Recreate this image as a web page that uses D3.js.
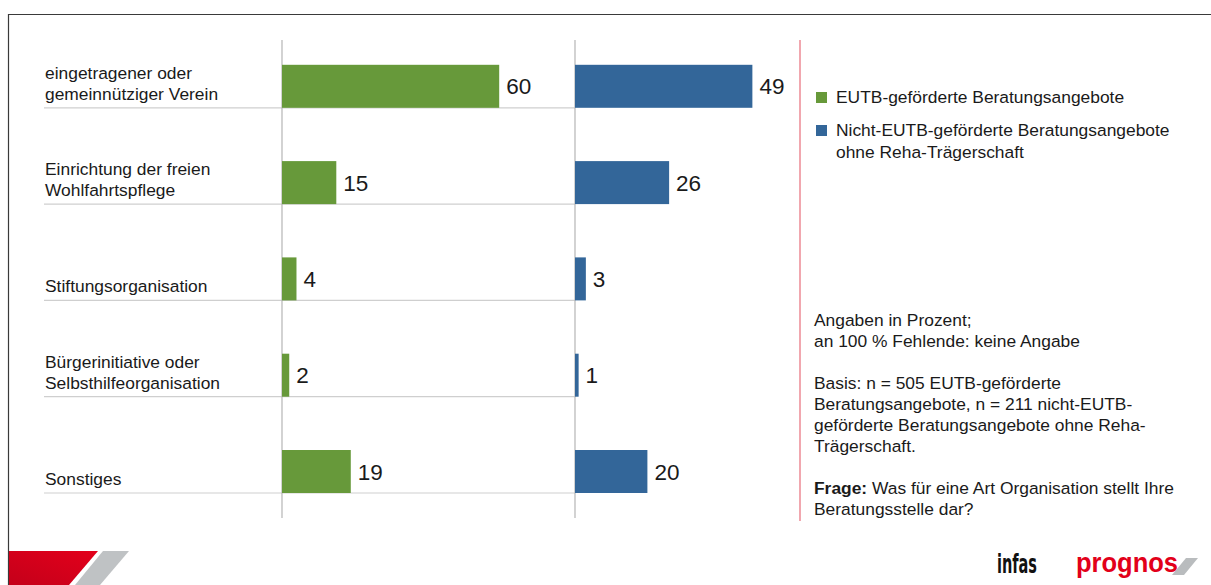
<!DOCTYPE html>
<html lang="de">
<head>
<meta charset="utf-8">
<title>Art der Organisation</title>
<script src="https://d3js.org/d3.v7.min.js"></script>
<style>
  body{margin:0;background:#fff;font-family:"Liberation Sans",Arial,sans-serif;}
  svg text{fill:#1a1a1a;}
</style>
</head>
<body>
<div id="chart"></div>
<script>
// data
var categories = [
  ["eingetragener oder", "gemeinnütziger Verein"],
  ["Einrichtung der freien", "Wohlfahrtspflege"],
  ["Stiftungsorganisation"],
  ["Bürgerinitiative oder", "Selbsthilfeorganisation"],
  ["Sonstiges"]
]
var eutbValues = [60, 15, 4, 2, 19]
var nichtEutbValues = [49, 26, 3, 1, 20]
var seriesNames = [["EUTB-geförderte Beratungsangebote"], ["Nicht-EUTB-geförderte Beratungsangebote", "ohne Reha-Trägerschaft"]]
var noteLines = [
  "Angaben in Prozent;",
  "an 100 % Fehlende: keine Angabe",
  "",
  "Basis: n = 505 EUTB-geförderte",
  "Beratungsangebote, n = 211 nicht-EUTB-",
  "geförderte Beratungsangebote ohne Reha-",
  "Trägerschaft.",
  "",
  "|Frage:| Was für eine Art Organisation stellt Ihre",
  "Beratungsstelle dar?"
]

var w = 1211, h = 585
var green = "#67993a", blue = "#336699"
var fs = 17.4

var svg = d3.select("#chart").append("svg")
  .attr("width", w).attr("height", h)

// frame
svg.append("path").attr("d", "M8.5,585 V14.5 H1211")
  .attr("fill", "none").attr("stroke", "#3a3a3a").attr("stroke-width", 1.2)

var keys = categories.map(function(d, i){ return "c" + i })
var yScale = d3.scaleBand().domain(keys).range([11.5, 493]).paddingInner(0).paddingOuter(0)
var step = yScale.step()
var barH = 43
var xGreen = d3.scaleLinear().domain([0, 100]).range([282, 644])
var xBlue = d3.scaleLinear().domain([0, 100]).range([575, 937])

// row separators
svg.selectAll("line.sep").data(keys).enter().append("line")
  .attr("class", "sep")
  .attr("x1", 44).attr("x2", 575)
  .attr("y1", function(d){ return yScale(d) + step })
  .attr("y2", function(d){ return yScale(d) + step })
  .attr("stroke", "#cfcfcf").attr("stroke-width", 1.2)

// axis lines
;[xGreen(0), xBlue(0)].forEach(function(x){
  svg.append("line").attr("x1", x).attr("x2", x).attr("y1", 40).attr("y2", 518)
    .attr("stroke", "#b5b5b5").attr("stroke-width", 1.2)
})

// red divider
svg.append("line").attr("x1", 800).attr("x2", 800).attr("y1", 40).attr("y2", 521)
  .attr("stroke", "#ec8a94").attr("stroke-width", 1.5)

// category labels
categories.forEach(function(lines, i){
  var bottom = yScale(keys[i]) + step
  lines.forEach(function(t, j){
    svg.append("text").attr("x", 45)
      .attr("y", bottom - 8 - (lines.length - 1 - j) * 21)
      .attr("font-size", fs).text(t)
  })
})

function drawSeries(values, xs, color){
  var g = svg.append("g")
  g.selectAll("rect").data(values).enter().append("rect")
    .attr("x", xs(0))
    .attr("y", function(d, i){ return yScale(keys[i]) + step - barH })
    .attr("width", function(d){ return xs(d) - xs(0) })
    .attr("height", barH)
    .attr("fill", color)
  g.selectAll("text").data(values).enter().append("text")
    .attr("x", function(d){ return xs(d) + 7 })
    .attr("y", function(d, i){ return yScale(keys[i]) + step - barH / 2 })
    .attr("dy", "0.36em")
    .attr("font-size", 22.5)
    .text(function(d){ return d })
}
drawSeries(eutbValues, xGreen, green)
drawSeries(nichtEutbValues, xBlue, blue)

// legend
var legendY = [103, 136]
seriesNames.forEach(function(lines, i){
  svg.append("rect").attr("x", 816).attr("y", legendY[i] - 11)
    .attr("width", 11).attr("height", 11)
    .attr("fill", i == 0 ? green : blue)
  lines.forEach(function(t, j){
    svg.append("text").attr("x", 836).attr("y", legendY[i] + j * 22)
      .attr("font-size", fs).text(t)
  })
})

// notes
noteLines.forEach(function(t, i){
  var txt = svg.append("text").attr("x", 814).attr("y", 326 + i * 21)
    .attr("font-size", fs)
  if(t.indexOf("|") == 0){
    var parts = t.split("|")
    txt.append("tspan").attr("font-weight", "bold").text(parts[1])
    txt.append("tspan").text(parts[2])
  }else{
    txt.text(t)
  }
})

// logos bottom left
var grad = svg.append("defs").append("linearGradient").attr("id", "redgrad")
  .attr("x1", "0").attr("x2", "1").attr("y1", "1").attr("y2", "0")
grad.append("stop").attr("offset", "0").attr("stop-color", "#c4001a")
grad.append("stop").attr("offset", "1").attr("stop-color", "#e3001b")
svg.append("path").attr("d", "M9,551 H98 L69,585 H9 Z").attr("fill", "url(#redgrad)")
svg.append("path").attr("d", "M103,551 H129 L100,585 H75 Z").attr("fill", "#bfc2c4")

// logos bottom right
svg.append("text").attr("x", 997).attr("y", 573)
  .attr("font-family", "'Liberation Sans Narrow','DejaVu Sans Condensed',sans-serif")
  .attr("font-weight", "bold").attr("font-size", 27)
  .attr("textLength", 40).attr("lengthAdjust", "spacingAndGlyphs")
  .style("fill", "#111").text("infas")
svg.append("text").attr("x", 1076).attr("y", 572)
  .attr("font-weight", "bold").attr("font-size", 27)
  .attr("textLength", 102).attr("lengthAdjust", "spacingAndGlyphs")
  .style("fill", "#e2001a").text("prognos")
svg.append("path").attr("d", "M1186,558 H1198 L1184,575 H1172 Z").attr("fill", "#b9bcbe")
</script>
</body>
</html>
